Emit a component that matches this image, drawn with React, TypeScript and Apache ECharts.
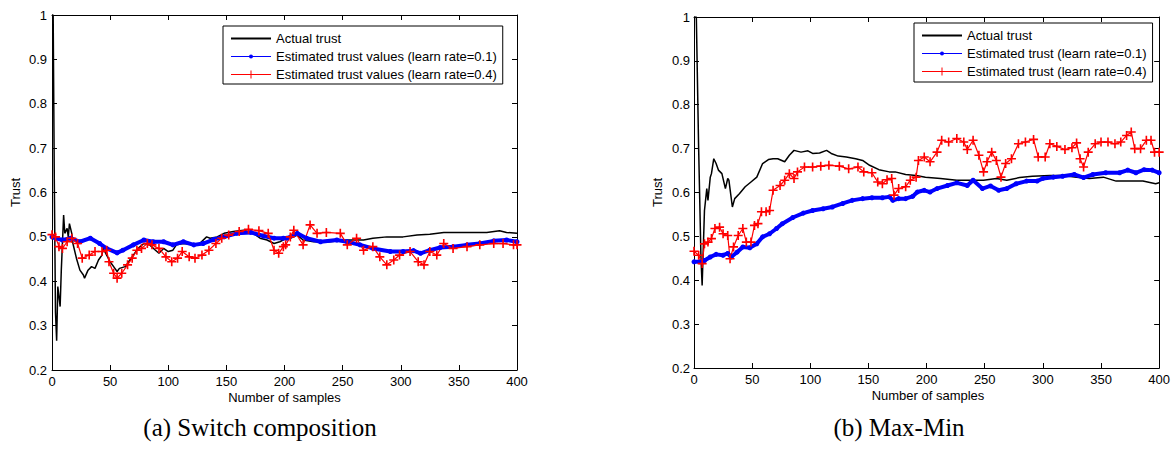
import React, { useEffect, useRef } from "react";
import * as echarts from "echarts";

// ---------- data ----------
const xTicks = [0, 50, 100, 150, 200, 250, 300, 350, 400];
const yTicks = [0.2, 0.3, 0.4, 0.5, 0.6, 0.7, 0.8, 0.9, 1];

const legendLeft = [
  "Actual trust",
  "Estimated trust values (learn rate=0.1)",
  "Estimated trust values (learn rate=0.4)",
];
const legendRight = [
  "Actual trust",
  "Estimated trust (learn rate=0.1)",
  "Estimated trust (learn rate=0.4)",
];
const captions = ["(a) Switch composition", "(b) Max-Min"];

const leftActual = [
  [0, 1.0], [1, 1.0], [2, 0.62], [3, 0.33], [4, 0.266], [5, 0.388], [7, 0.343], [8, 0.425], [10, 0.549],
  [11, 0.508], [13, 0.519], [14, 0.5], [15, 0.53], [17, 0.508], [18, 0.485], [21, 0.452], [24, 0.425],
  [27, 0.414], [28, 0.407], [31, 0.425], [34, 0.433], [37, 0.429], [40, 0.448], [43, 0.459], [44, 0.474],
  [47, 0.459], [50, 0.444], [53, 0.433], [56, 0.422], [58, 0.429], [63, 0.433], [67, 0.448], [70, 0.459],
  [74, 0.474], [79, 0.485], [84, 0.482], [89, 0.47], [92, 0.463], [96, 0.474], [100, 0.467], [104, 0.47],
  [107, 0.482], [113, 0.485], [122, 0.482], [127, 0.485], [133, 0.5], [136, 0.497], [142, 0.5], [148, 0.508],
  [156, 0.512], [165, 0.515], [173, 0.508], [179, 0.497], [185, 0.493], [191, 0.485], [196, 0.489],
  [202, 0.497], [205, 0.497], [211, 0.504], [216, 0.493], [225, 0.489], [239, 0.489], [254, 0.493],
  [268, 0.493], [276, 0.497], [288, 0.5], [302, 0.5], [314, 0.504], [325, 0.506], [337, 0.51], [348, 0.51],
  [362, 0.51], [374, 0.51], [385, 0.514], [391, 0.51], [400, 0.508],
];
const leftEst01 = [
  [0, 0.5], [3, 0.497], [9, 0.493], [16, 0.497], [24, 0.489], [33, 0.497], [41, 0.485], [47, 0.474],
  [56, 0.464], [61, 0.47], [70, 0.482], [79, 0.493], [87, 0.489], [96, 0.489], [104, 0.482], [113, 0.489],
  [122, 0.482], [130, 0.485], [139, 0.494], [148, 0.5], [159, 0.508], [171, 0.51], [182, 0.502],
  [191, 0.497], [199, 0.497], [202, 0.497], [211, 0.508], [219, 0.497], [231, 0.489], [245, 0.493],
  [254, 0.489], [265, 0.482], [276, 0.474], [291, 0.467], [302, 0.467], [311, 0.469], [317, 0.463],
  [325, 0.47], [334, 0.476], [345, 0.478], [357, 0.482], [368, 0.485], [380, 0.491], [391, 0.493], [400, 0.489],
];
const leftEst04 = [
  [0, 0.505], [3, 0.5], [6, 0.478], [9, 0.474], [13, 0.489], [17, 0.497], [22, 0.485], [26, 0.452],
  [32, 0.459], [37, 0.467], [43, 0.467], [47, 0.47], [49, 0.444], [53, 0.418], [56, 0.407], [60, 0.418],
  [65, 0.437], [69, 0.452], [73, 0.47], [77, 0.474], [82, 0.485], [86, 0.482], [92, 0.474], [98, 0.455],
  [103, 0.444], [108, 0.452], [112, 0.467], [118, 0.455], [123, 0.452], [129, 0.459], [135, 0.47],
  [141, 0.485], [146, 0.497], [152, 0.504], [161, 0.512], [169, 0.517], [178, 0.514], [186, 0.508],
  [191, 0.47], [195, 0.463], [199, 0.478], [201, 0.482], [205, 0.5], [208, 0.515], [216, 0.482],
  [222, 0.527], [228, 0.508], [236, 0.51], [248, 0.508], [254, 0.482], [262, 0.497], [268, 0.47],
  [276, 0.478], [282, 0.455], [288, 0.437], [294, 0.448], [299, 0.459], [308, 0.467], [315, 0.444],
  [320, 0.437], [325, 0.467], [331, 0.459], [337, 0.485], [345, 0.474], [357, 0.478], [368, 0.482],
  [380, 0.485], [388, 0.485], [397, 0.482], [400, 0.482],
];

const rightActual = [
  [0, 1.0], [2, 1.0], [4, 0.7], [6, 0.45], [7, 0.388], [9, 0.559], [11, 0.609], [12, 0.582], [14, 0.635],
  [15, 0.643], [17, 0.677], [19, 0.666], [21, 0.651], [24, 0.643], [27, 0.609], [29, 0.632], [30, 0.628],
  [33, 0.567], [35, 0.586], [39, 0.597], [44, 0.613], [49, 0.624], [54, 0.635], [59, 0.666], [64, 0.675],
  [68, 0.677], [72, 0.677], [78, 0.67], [82, 0.685], [86, 0.696], [92, 0.692], [98, 0.695], [102, 0.689],
  [108, 0.69], [114, 0.696], [118, 0.689], [124, 0.683], [131, 0.681], [139, 0.677], [145, 0.673],
  [151, 0.662], [159, 0.652], [168, 0.647], [173, 0.647], [182, 0.641], [191, 0.639], [199, 0.635],
  [212, 0.632], [226, 0.628], [240, 0.628], [249, 0.628], [260, 0.632], [269, 0.628], [280, 0.634],
  [291, 0.637], [306, 0.639], [317, 0.639], [329, 0.635], [340, 0.632], [352, 0.635], [363, 0.626],
  [374, 0.626], [386, 0.626], [397, 0.62], [400, 0.622],
];
const rightEst01 = [
  [0, 0.442], [5, 0.442], [9, 0.445], [14, 0.453], [19, 0.459], [25, 0.457], [29, 0.461], [32, 0.453],
  [37, 0.464], [42, 0.476], [48, 0.474], [54, 0.483], [59, 0.499], [65, 0.506], [71, 0.518], [76, 0.529],
  [85, 0.543], [94, 0.553], [102, 0.559], [111, 0.563], [119, 0.567], [128, 0.575], [136, 0.582],
  [145, 0.586], [153, 0.588], [162, 0.588], [168, 0.59], [171, 0.582], [176, 0.586], [182, 0.586],
  [188, 0.591], [192, 0.601], [198, 0.605], [203, 0.601], [209, 0.609], [218, 0.616], [226, 0.622],
  [235, 0.616], [240, 0.628], [248, 0.609], [255, 0.615], [262, 0.605], [269, 0.609], [277, 0.62],
  [286, 0.626], [295, 0.626], [300, 0.632], [309, 0.635], [317, 0.637], [327, 0.641], [335, 0.634],
  [343, 0.641], [354, 0.645], [366, 0.645], [373, 0.651], [380, 0.645], [387, 0.652], [394, 0.651], [400, 0.645],
];
const rightEst04 = [
  [0, 0.466], [4, 0.457], [7, 0.438], [9, 0.483], [12, 0.487], [15, 0.495], [18, 0.518], [22, 0.521],
  [25, 0.506], [29, 0.502], [31, 0.449], [34, 0.476], [38, 0.502], [42, 0.518], [45, 0.487], [49, 0.487],
  [52, 0.525], [55, 0.529], [58, 0.556], [62, 0.556], [65, 0.559], [68, 0.605], [74, 0.616], [78, 0.628],
  [82, 0.643], [86, 0.632], [89, 0.647], [95, 0.658], [102, 0.658], [109, 0.66], [116, 0.662], [125, 0.66],
  [133, 0.654], [141, 0.658], [146, 0.647], [153, 0.645], [158, 0.624], [162, 0.62], [166, 0.629],
  [170, 0.632], [172, 0.594], [176, 0.609], [182, 0.613], [186, 0.628], [191, 0.635], [193, 0.673],
  [198, 0.681], [203, 0.67], [209, 0.692], [213, 0.719], [219, 0.715], [226, 0.723], [232, 0.715],
  [235, 0.698], [240, 0.719], [245, 0.685], [249, 0.647], [252, 0.67], [256, 0.692], [260, 0.673],
  [264, 0.635], [268, 0.666], [273, 0.677], [279, 0.711], [285, 0.715], [292, 0.721], [296, 0.681],
  [302, 0.681], [306, 0.711], [312, 0.705], [319, 0.698], [325, 0.702], [329, 0.713], [332, 0.677],
  [335, 0.658], [339, 0.692], [345, 0.711], [350, 0.715], [356, 0.715], [362, 0.711], [367, 0.715],
  [372, 0.73], [376, 0.738], [379, 0.7], [384, 0.7], [389, 0.719], [393, 0.719], [396, 0.692], [400, 0.692],
];

// ---------- styling ----------
const SANS = "'Liberation Sans', Arial, Helvetica, sans-serif";
const SERIF = "'Liberation Serif', 'Times New Roman', serif";
const CROSS = "path://M4.1,0H5.9V4.1H10V5.9H5.9V10H4.1V5.9H0V4.1H4.1Z";
const ICON_BLACK = "path://M0,0H40V2H0Z";
const ICON_BLUE = "path://M0,6.5H40V7.5H0Z M18,7A2,2 0 1 1 22,7A2,2 0 1 1 18,7Z";
const ICON_RED =
  "path://M0,6.5H40V7.5H0Z M19.5,3H20.5V6.5H24V7.5H20.5V11H19.5V7.5H16V6.5H19.5Z";

const grids = [
  { left: 52, top: 15, width: 465, height: 355 },
  { left: 694, top: 17, width: 468, height: 351 },
];

function buildOption() {
  const xAxes: any[] = [];
  const yAxes: any[] = [];
  grids.forEach((_, gi) => {
    ["bottom", "top"].forEach((pos) => {
      xAxes.push({
        type: "value",
        gridIndex: gi,
        position: pos,
        min: xTicks[0],
        max: xTicks[xTicks.length - 1],
        interval: xTicks[1] - xTicks[0],
        axisLine: { show: true, onZero: false, lineStyle: { color: "#000", width: 1 } },
        axisTick: { show: true, inside: true, length: 5, lineStyle: { color: "#000" } },
        axisLabel: {
          show: pos === "bottom",
          margin: 5,
          color: "#000",
          fontFamily: SANS,
          fontSize: 13,
        },
        splitLine: { show: false },
      });
    });
    ["left", "right"].forEach((pos) => {
      yAxes.push({
        type: "value",
        gridIndex: gi,
        position: pos,
        min: yTicks[0],
        max: yTicks[yTicks.length - 1],
        interval: 0.1,
        axisLine: { show: true, onZero: false, lineStyle: { color: "#000", width: 1 } },
        axisTick: { show: true, inside: true, length: 5, lineStyle: { color: "#000" } },
        axisLabel: {
          show: pos === "left",
          margin: gi === 0 ? 5 : 4,
          color: "#000",
          fontFamily: SANS,
          fontSize: 13,
          formatter: (v: number) => String(Math.round(v * 10) / 10),
        },
        splitLine: { show: false },
      });
    });
  });

  const mk = (gi: number, names: string[], a: number[][], b: number[][], c: number[][]) => [
    {
      name: names[0],
      type: "line",
      xAxisIndex: gi * 2,
      yAxisIndex: gi * 2,
      data: a,
      symbol: "none",
      itemStyle: { color: "#000" },
      lineStyle: { color: "#000", width: 1.5 },
    },
    {
      name: names[1],
      type: "line",
      xAxisIndex: gi * 2,
      yAxisIndex: gi * 2,
      data: b,
      symbol: "circle",
      symbolSize: 5,
      showAllSymbol: true,
      itemStyle: { color: "#0000ff", borderWidth: 0 },
      lineStyle: { color: "#0000ff", width: 4 },
    },
    {
      name: names[2],
      type: "line",
      xAxisIndex: gi * 2,
      yAxisIndex: gi * 2,
      data: c,
      symbol: CROSS,
      symbolSize: 9,
      showAllSymbol: true,
      itemStyle: { color: "#ff0000", borderWidth: 0 },
      lineStyle: { color: "#ff0000", width: 1.2 },
    },
  ];

  const legendBase = (left: number, top: number, names: string[], pb: number) => ({
    orient: "vertical",
    left,
    top,
    itemWidth: 40,
    itemHeight: 14,
    itemGap: 5,
    padding: [6, 6, pb, 8],
    borderColor: "#000",
    borderWidth: 1,
    borderRadius: 0,
    backgroundColor: "#fff",
    selectedMode: false,
    itemStyle: { borderWidth: 0 },
    textStyle: { fontSize: 13, fontFamily: SANS, color: "#000" },
    data: [
      { name: names[0], icon: ICON_BLACK },
      { name: names[1], icon: ICON_BLUE },
      { name: names[2], icon: ICON_RED },
    ],
  });

  const axisTitle = (x: number, y: number, text: string, rot = 0) => ({
    type: "text",
    x,
    y,
    rotation: rot,
    style: {
      text,
      fill: "#000",
      font: `13px ${SANS}`,
      align: "center",
      verticalAlign: "middle",
    },
  });

  const caption = (x: number, text: string) => ({
    type: "text",
    x,
    y: 427,
    style: { text, fill: "#000", font: `25px ${SERIF}`, align: "center", verticalAlign: "middle" },
  });

  return {
    animation: false,
    backgroundColor: "#fff",
    grid: grids.map((g) => ({ ...g, containLabel: false })),
    xAxis: xAxes,
    yAxis: yAxes,
    legend: [legendBase(223, 26, legendLeft, 3), legendBase(914, 23, legendRight, 4)],
    series: [
      ...mk(0, legendLeft, leftActual, leftEst01, leftEst04),
      ...mk(1, legendRight, rightActual, rightEst01, rightEst04),
    ],
    graphic: [
      axisTitle(284.5, 397, "Number of samples"),
      axisTitle(928, 395, "Number of samples"),
      axisTitle(15, 192.5, "Trust", Math.PI / 2),
      axisTitle(657, 192.5, "Trust", Math.PI / 2),
      caption(260, captions[0]),
      caption(899, captions[1]),
    ],
  };
}

export default function App() {
  const ref = useRef<HTMLDivElement>(null);
  useEffect(() => {
    if (!ref.current) return;
    const chart = echarts.init(ref.current, undefined, { renderer: "svg" });
    chart.setOption(buildOption() as any);
    return () => chart.dispose();
  }, []);
  return (
    <div
      ref={ref}
      style={{ position: "absolute", left: 0, top: 0, width: 1173, height: 450, background: "#fff" }}
    />
  );
}
